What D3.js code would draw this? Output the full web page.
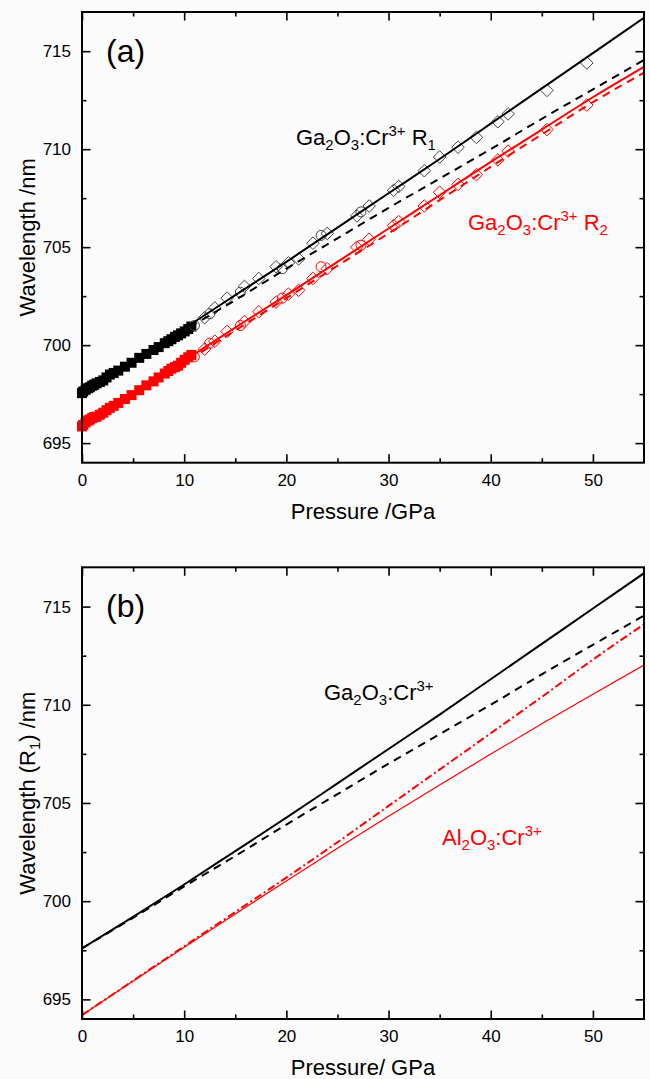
<!DOCTYPE html>
<html>
<head>
<meta charset="utf-8">
<script src="https://cdn.jsdelivr.net/npm/d3@7"></script>
<style>
html,body{margin:0;padding:0;background:#fbfbfb;}
svg{display:block;}
text{font-family:"Liberation Sans",Arial,sans-serif;}
</style>
</head>
<body>
<svg id="chart" width="650" height="1079"></svg>
<script>
// ---------- data ----------
const xMajorTicks = [0, 10, 20, 30, 40, 50];
const xMinorTicks = [5, 15, 25, 35, 45];
const yMajorTicks = [695, 700, 705, 710, 715];
const yMinorTicks = [697.5, 702.5, 707.5, 712.5];

// fitted curves (pressure grid, GPa)
const curveP = [0, 5, 10, 15, 20, 25, 30, 35, 40, 45, 50, 55];
const r1Solid  = [697.6, 699.2, 700.85, 702.55, 704.25, 706.0, 707.75, 709.5, 711.3, 713.1, 714.9, 716.7];
const r1Dashed = [697.6, 699.15, 700.75, 702.3, 703.9, 705.45, 707.0, 708.5, 710.0, 711.55, 713.05, 714.55];
const r2Solid  = [695.9, 697.55, 699.2, 700.9, 702.55, 704.25, 705.95, 707.65, 709.35, 711.0, 712.65, 714.2];
const r2Dashed = [695.9, 697.5, 699.1, 700.75, 702.4, 704.05, 705.7, 707.4, 709.1, 710.75, 712.4, 713.9];
const rubyDashDot = [694.2, 695.95, 697.7, 699.45, 701.2, 703.0, 704.85, 706.7, 708.55, 710.4, 712.3, 714.1];
const rubySolid   = [694.2, 695.93, 697.65, 699.35, 701.03, 702.69, 704.32, 705.92, 707.49, 709.03, 710.54, 712.02];

// filled squares (low pressure)
const filledP  = [0.0, 0.12, 0.35, 0.6, 0.77, 1.0, 1.2, 1.43, 1.75, 2.08, 2.4, 2.73, 3.1, 3.55, 4.2, 4.85, 5.6, 6.3, 7.0, 7.5, 8.1, 8.45, 8.75, 9.1, 9.4, 9.7, 10.05, 10.4, 10.7];
const filledR1 = [697.55, 697.63, 697.72, 697.8, 697.85, 697.93, 697.98, 698.05, 698.12, 698.2, 698.35, 698.5, 698.58, 698.7, 698.9, 699.1, 699.35, 699.55, 699.75, 699.9, 700.1, 700.2, 700.3, 700.42, 700.5, 700.6, 700.7, 700.82, 700.95];
const filledR2 = [695.85, 695.93, 696.05, 696.15, 696.2, 696.28, 696.33, 696.35, 696.45, 696.55, 696.68, 696.8, 696.9, 697.05, 697.25, 697.45, 697.7, 697.95, 698.15, 698.35, 698.55, 698.68, 698.8, 698.88, 698.95, 699.1, 699.25, 699.38, 699.5];

// open symbols (high pressure): shape d = diamond, c = circle
const openP     = [11.0, 12.0, 12.5, 13.0, 14.2, 15.5, 15.9, 17.3, 19.0, 19.6, 20.2, 21.2, 22.6, 23.4, 24.0, 26.9, 27.3, 28.1, 30.5, 31.0, 33.5, 35.0, 36.8, 38.6, 40.7, 41.7, 45.5, 49.4];
const openShape = ["c","d","c","d","d","c","d","d","d","c","d","d","d","c","d","d","c","d","d","d","d","d","d","d","d","d","d","d"];
const openR1    = [701.0, 701.4, 701.6, 701.9, 702.4, 702.7, 703.0, 703.4, 704.0, 703.9, 704.2, 704.4, 705.2, 705.6, 705.7, 706.6, 706.8, 707.1, 707.9, 708.1, 708.9, 709.6, 710.1, 710.6, 711.4, 711.8, 713.0, 714.4];
const openR2    = [699.4, 699.8, 700.1, 700.2, 700.7, 701.0, 701.2, 701.7, 702.2, 702.4, 702.6, 702.8, 703.4, 704.0, 703.9, 705.0, 705.1, 705.4, 706.1, 706.3, 707.1, 707.8, 708.2, 708.7, 709.45, 709.9, 711.0, 712.25];

// ---------- layout ----------
const svg = d3.select("#chart");
const X0 = 82, X1 = 644;
const panels = [
  {top: 12, bottom: 462.7, id: "a"},
  {top: 567.3, bottom: 1019, id: "b"}
];
const x = d3.scaleLinear().domain([0, 55]).range([X0, X1]);
const RED = "#ff0000";
const FONT = '"Liberation Sans",Arial,sans-serif';

function makeY(p){ return d3.scaleLinear().domain([694, 717]).range([p.bottom, p.top]); }

function drawFrame(p, y, xTitle, yTitleSegs){
  const g = svg.append("g");
  const h = p.bottom - p.top;
  const ax = [
    {axis: d3.axisBottom(x).tickValues(xMajorTicks).tickSize(-8.5).tickFormat(d3.format("d")), t: `translate(0,${p.bottom})`},
    {axis: d3.axisBottom(x).tickValues(xMinorTicks).tickSize(-4.5).tickFormat(""), t: `translate(0,${p.bottom})`},
    {axis: d3.axisTop(x).tickValues(xMajorTicks).tickSize(-8.5).tickFormat(""), t: `translate(0,${p.top})`},
    {axis: d3.axisTop(x).tickValues(xMinorTicks).tickSize(-4.5).tickFormat(""), t: `translate(0,${p.top})`},
    {axis: d3.axisLeft(y).tickValues(yMajorTicks).tickSize(-8.5).tickFormat(d3.format("d")), t: `translate(${X0},0)`},
    {axis: d3.axisLeft(y).tickValues(yMinorTicks).tickSize(-4.5).tickFormat(""), t: `translate(${X0},0)`},
    {axis: d3.axisRight(y).tickValues(yMajorTicks).tickSize(-8.5).tickFormat(""), t: `translate(${X1},0)`},
    {axis: d3.axisRight(y).tickValues(yMinorTicks).tickSize(-4.5).tickFormat(""), t: `translate(${X1},0)`}
  ];
  ax.forEach(a => {
    const gg = g.append("g").attr("transform", a.t).call(a.axis.tickPadding(11));
    gg.select(".domain").remove();
    gg.selectAll(".tick line").attr("stroke", "#000").attr("stroke-width", 1.6);
    gg.selectAll(".tick text").attr("fill", "#000").attr("font-size", 17).attr("font-family", FONT);
  });
  g.append("rect").attr("x", X0).attr("y", p.top).attr("width", X1 - X0).attr("height", h)
    .attr("fill", "none").attr("stroke", "#000").attr("stroke-width", 2);
  g.append("text").attr("x", (X0 + X1) / 2).attr("y", p.bottom + 56)
    .attr("text-anchor", "middle").attr("font-size", 22).text(xTitle);
  const yt = g.append("text").attr("transform", `translate(35,${(p.top + p.bottom) / 2}) rotate(-90)`)
    .attr("text-anchor", "middle").attr("font-size", 22);
  richText(yt, yTitleSegs, 22);
  g.append("text").attr("x", 106).attr("y", p.top + 50).attr("font-size", 32).text(`(${p.id})`);
}

function richText(sel, segs, fs){
  let shift = 0;
  segs.forEach(s => {
    const target = s.sub ? fs * 0.22 : s.sup ? -fs * 0.4 : 0;
    const ts = sel.append("tspan").attr("dy", target - shift).text(s.t);
    if (s.sub || s.sup) ts.attr("font-size", fs * 0.68);
    shift = target;
  });
}

function label(x0, y0, segs, color, fs){
  const t = svg.append("text").attr("x", x0).attr("y", y0).attr("font-size", fs).attr("fill", color);
  richText(t, segs, fs);
}

function drawCurve(g, y, vals, color, width, dash){
  const line = d3.line().x((d, i) => x(curveP[i])).y(d => y(d)).curve(d3.curveMonotoneX);
  g.append("path").attr("d", line(vals)).attr("fill", "none").attr("stroke", color)
    .attr("stroke-width", width).attr("stroke-dasharray", dash || null);
}

panels.forEach(p => {
  svg.append("clipPath").attr("id", "clip-" + p.id).append("rect")
    .attr("x", X0).attr("y", p.top).attr("width", X1 - X0).attr("height", p.bottom - p.top);
});

// ---------- panel (a) ----------
(function(){
  const p = panels[0], y = makeY(p);
  const g = svg.append("g");
  const gl = svg.append("g").attr("clip-path", "url(#clip-a)");
  const sq = 10;
  [[filledR2, RED], [filledR1, "#000"]].forEach(([vals, col]) => {
    g.selectAll(null).data(vals).enter().append("rect")
      .attr("x", (d, i) => x(filledP[i]) - sq / 2).attr("y", d => y(d) - sq / 2)
      .attr("width", sq).attr("height", sq).attr("fill", col);
  });
  const drawOpen = (vals, col) => {
    vals.forEach((v, i) => {
      const cx = x(openP[i]), cy = y(v);
      if (openShape[i] === "c") {
        g.append("circle").attr("cx", cx).attr("cy", cy).attr("r", 5)
          .attr("fill", "none").attr("stroke", col).attr("stroke-width", 1);
      } else {
        g.append("path").attr("d", `M${cx},${cy - 6.3}L${cx + 6.3},${cy}L${cx},${cy + 6.3}L${cx - 6.3},${cy}Z`)
          .attr("fill", "none").attr("stroke", col).attr("stroke-width", 1);
      }
    });
  };
  drawOpen(openR1, "#444");
  drawOpen(openR2, RED);
  drawCurve(gl, y, r1Dashed, "#000", 2, "8,6");
  drawCurve(gl, y, r2Dashed, RED, 2, "8,6");
  drawCurve(gl, y, r1Solid, "#000", 2);
  drawCurve(gl, y, r2Solid, RED, 2);
  drawFrame(p, y, "Pressure /GPa", [{t: "Wavelength /nm"}]);
  label(296, 145, [{t:"Ga"},{t:"2",sub:1},{t:"O"},{t:"3",sub:1},{t:":Cr"},{t:"3+",sup:1},{t:" R"},{t:"1",sub:1}], "#000", 22);
  label(468, 230, [{t:"Ga"},{t:"2",sub:1},{t:"O"},{t:"3",sub:1},{t:":Cr"},{t:"3+",sup:1},{t:" R"},{t:"2",sub:1}], RED, 22);
})();

// ---------- panel (b) ----------
(function(){
  const p = panels[1], y = makeY(p);
  const g = svg.append("g").attr("clip-path", "url(#clip-b)");
  drawCurve(g, y, rubySolid, RED, 1.2);
  drawCurve(g, y, rubyDashDot, RED, 2, "8,3,2,3");
  drawCurve(g, y, r1Dashed, "#000", 2, "8,6");
  drawCurve(g, y, r1Solid, "#000", 2);
  drawFrame(p, y, "Pressure/ GPa", [{t: "Wavelength (R"},{t:"1",sub:1},{t:") /nm"}]);
  label(324, 700, [{t:"Ga"},{t:"2",sub:1},{t:"O"},{t:"3",sub:1},{t:":Cr"},{t:"3+",sup:1}], "#000", 22);
  label(442, 845, [{t:"Al"},{t:"2",sub:1},{t:"O"},{t:"3",sub:1},{t:":Cr"},{t:"3+",sup:1}], RED, 22);
})();
</script>
</body>
</html>
